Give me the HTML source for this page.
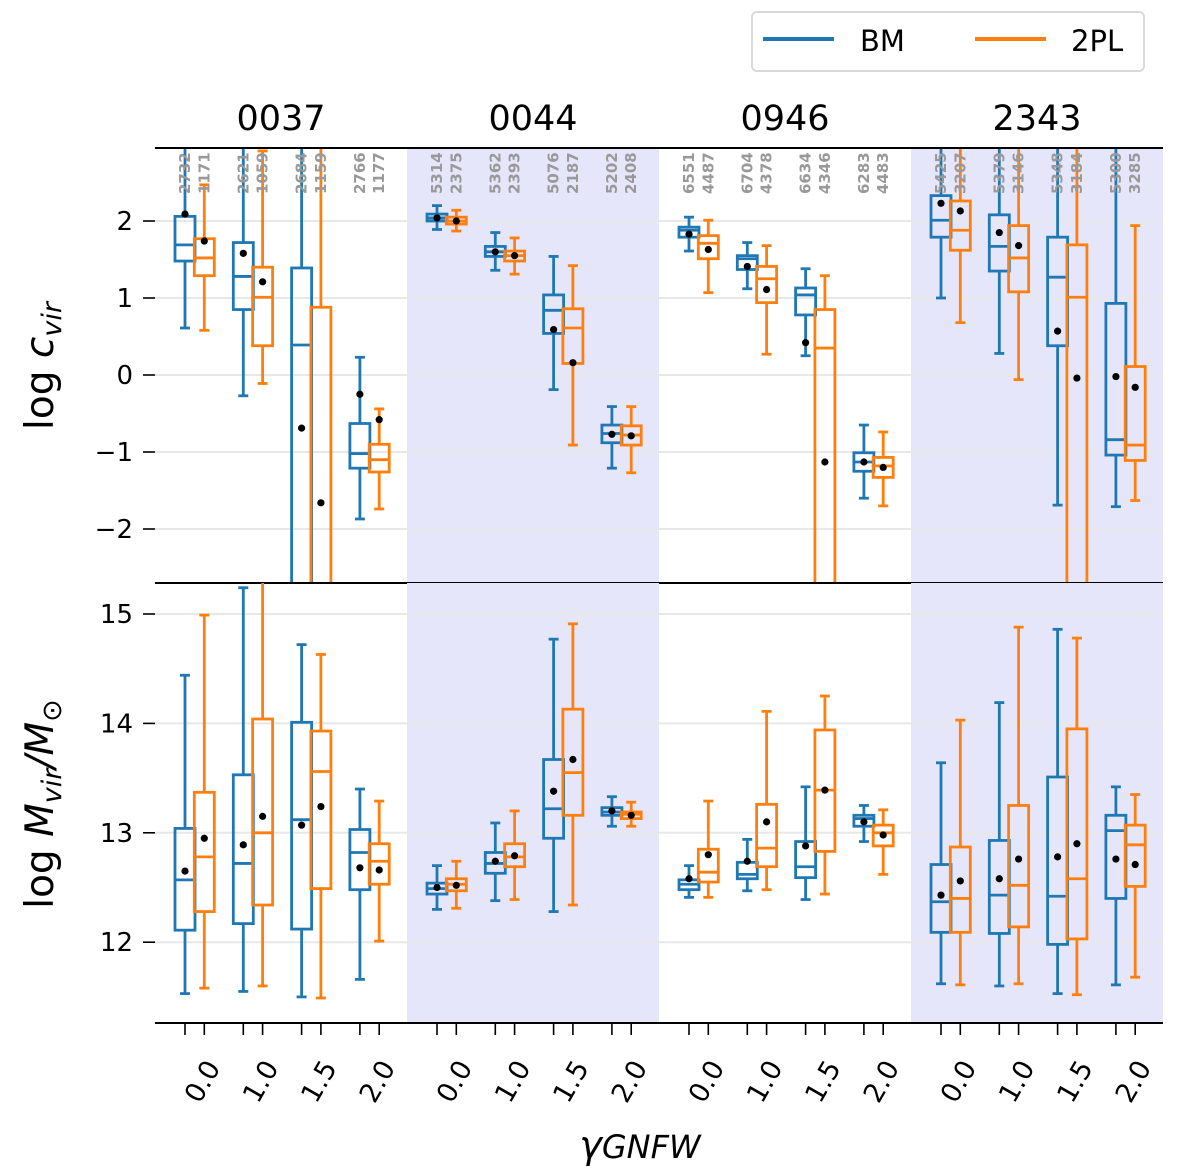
<!DOCTYPE html>
<html><head><meta charset="utf-8"><style>
html,body{margin:0;padding:0;background:#fff;}
svg{display:block;font-family:"DejaVu Sans","Liberation Sans",sans-serif;}
</style></head><body>
<svg id="chart" width="1200" height="1175" viewBox="0 0 1200 1175" xmlns="http://www.w3.org/2000/svg">
<g>
<rect x="752" y="12" width="392" height="59" rx="5" fill="#fff" stroke="#d9d9d9" stroke-width="2"/>
<line x1="763" y1="39" x2="834" y2="39" stroke="#1f77b4" stroke-width="4"/>
<text x="860" y="51" font-size="29" fill="#000">BM</text>
<line x1="975" y1="39" x2="1046" y2="39" stroke="#ff7f0e" stroke-width="4"/>
<text x="1071" y="51" font-size="29" fill="#000">2PL</text>
</g>
<text x="53" y="366" font-size="39" text-anchor="middle" transform="rotate(-90 53 366)">log <tspan font-style="italic">c</tspan><tspan font-style="italic" font-size="27" dy="8">vir</tspan></text>
<text x="53" y="804" font-size="39" text-anchor="middle" transform="rotate(-90 53 804)">log <tspan font-style="italic">M</tspan><tspan font-style="italic" font-size="27" dy="8">vir</tspan><tspan dy="-8" font-style="italic">/M</tspan><tspan font-size="27" dy="8">⊙</tspan></text>
<text x="640" y="1158" font-size="38" text-anchor="middle"><tspan font-style="italic">γ</tspan><tspan font-style="italic" font-size="32">GNFW</tspan></text>
</svg>
<script>
// categories
const clusters = ["0037","0044","0946","2343"];
const gammas = ["0.0","1.0","1.5","2.0"];
const cvirTicks = [2,1,0,-1,-2];
const cvirTickLabels = ["2","1","0","\u22121","\u22122"];
const mvirTicks = [15,14,13,12];
const mvirTickLabels = ["15","14","13","12"];
// counts (BM, 2PL) per box
const countsBM = [2732,2621,2684,2766, 5314,5362,5076,5202, 6551,6704,6634,6283, 5425,5379,5348,5300];
const counts2PL = [1171,1059,1159,1177, 2375,2393,2187,2408, 4487,4378,4346,4483, 3207,3146,3184,3285];
// [whislo, q1, med, q3, whishi, mean]
const cvirBM = [
 [0.61,1.48,1.69,2.06,4,2.09],[-0.27,0.85,1.28,1.72,4,1.58],[-6,-4,0.39,1.39,4,-0.69],[-1.87,-1.21,-1.02,-0.63,0.23,-0.25],
 [1.89,2.0,2.04,2.09,2.20,2.04],[1.36,1.54,1.60,1.67,1.85,1.60],[-0.19,0.54,0.84,1.04,1.54,0.59],[-1.21,-0.88,-0.76,-0.65,-0.41,-0.77],
 [1.61,1.79,1.88,1.92,2.05,1.83],[1.12,1.37,1.51,1.55,1.72,1.41],[0.25,0.78,1.04,1.13,1.38,0.42],[-1.60,-1.25,-1.13,-1.01,-0.65,-1.13],
 [1.0,1.79,2.01,2.33,4,2.23],[0.28,1.35,1.67,2.08,4,1.85],[-1.69,0.38,1.27,1.79,4,0.57],[-1.71,-1.04,-0.84,0.93,4,-0.02]];
const cvir2PL = [
 [0.58,1.29,1.52,1.77,2.47,1.74],[-0.11,0.38,1.01,1.40,2.91,1.21],[-6,-4,-3,0.88,4,-1.66],[-1.74,-1.26,-1.10,-0.90,-0.44,-0.58],
 [1.87,1.96,2.0,2.05,2.14,2.0],[1.31,1.48,1.55,1.61,1.78,1.55],[-0.91,0.15,0.61,0.86,1.42,0.16],[-1.27,-0.91,-0.78,-0.66,-0.41,-0.79],
 [1.07,1.51,1.71,1.81,2.01,1.63],[0.27,0.94,1.25,1.41,1.68,1.11],[-6,-4,0.35,0.85,1.29,-1.13],[-1.70,-1.33,-1.18,-1.07,-0.74,-1.20],
 [0.68,1.62,1.88,2.26,4,2.13],[-0.06,1.08,1.52,1.94,4,1.68],[-6,-4,1.01,1.69,4,-0.04],[-1.63,-1.11,-0.91,0.11,1.94,-0.16]];
const mvirBM = [
 [11.53,12.11,12.57,13.04,14.44,12.65],[11.55,12.17,12.72,13.53,15.24,12.89],[11.50,12.12,13.12,14.01,14.72,13.07],[11.66,12.48,12.82,13.03,13.40,12.68],
 [12.30,12.44,12.49,12.54,12.70,12.50],[12.38,12.63,12.72,12.82,13.09,12.74],[12.28,12.95,13.22,13.67,14.77,13.38],[13.06,13.16,13.19,13.23,13.33,13.20],
 [12.41,12.48,12.53,12.57,12.70,12.58],[12.47,12.58,12.62,12.73,12.94,12.74],[12.39,12.59,12.69,12.92,13.42,12.88],[12.92,13.06,13.13,13.16,13.25,13.10],
 [11.62,12.09,12.37,12.71,13.64,12.43],[11.60,12.08,12.43,12.93,14.19,12.58],[11.53,11.98,12.42,13.51,14.86,12.78],[11.61,12.40,13.02,13.16,13.42,12.76]];
const mvir2PL = [
 [11.58,12.28,12.78,13.37,14.99,12.95],[11.60,12.34,13.0,14.04,16,13.15],[11.49,12.49,13.56,13.93,14.63,13.24],[12.01,12.53,12.74,12.90,13.29,12.66],
 [12.31,12.47,12.53,12.58,12.74,12.52],[12.39,12.69,12.78,12.90,13.20,12.79],[12.34,13.16,13.55,14.13,14.91,13.67],[13.06,13.13,13.17,13.19,13.28,13.16],
 [12.41,12.55,12.64,12.85,13.29,12.80],[12.48,12.69,12.86,13.26,14.11,13.10],[12.44,12.83,13.39,13.94,14.25,13.39],[12.62,12.88,13.00,13.07,13.21,12.98],
 [11.61,12.09,12.40,12.87,14.03,12.56],[11.62,12.14,12.52,13.25,14.88,12.76],[11.52,12.03,12.58,13.95,14.78,12.90],[11.68,12.51,12.89,13.07,13.35,12.71]];

const NS = "http://www.w3.org/2000/svg";
const svg = document.getElementById("chart");
const X0 = 155, X1 = 1163, GW = 252, STEP = 58.3, OFF = 19.3, BW = 20;
const BLUE = "#1f77b4", ORANGE = "#ff7f0e";
function el(tag, attrs, parent) {
  const e = document.createElementNS(NS, tag);
  for (const k in attrs) e.setAttribute(k, attrs[k]);
  (parent || svg).appendChild(e);
  return e;
}
function xPos(i, model) { return 185 + GW * Math.floor(i / 4) + STEP * (i % 4) + (model === 1 ? OFF : 0); }
const panels = [
  {top:148, bot:583, yOf: v => 221 - (v - 2) * 77, ticks: cvirTicks, labels: cvirTickLabels, bm: cvirBM, pl: cvir2PL, name:"cvir", topSpine:true},
  {top:583, bot:1023, yOf: v => 614 - (v - 15) * 109.4, ticks: mvirTicks, labels: mvirTickLabels, bm: mvirBM, pl: mvir2PL, name:"mvir", topSpine:false}
];
panels.forEach((p, pi) => {
  const g = el("g", {});
  
  
  const cp = el("clipPath", {id: "clip" + pi}, g);
  el("rect", {x: X0, y: p.top, width: X1 - X0, height: p.bot - p.top}, cp);
  clusters.forEach((c, ci) => {
    if (ci % 2 === 1) {
      const r = el("rect", {x: X0 + ci * GW, y: p.top, width: GW, height: p.bot - p.top, fill: "#e6e6fa"}, g);
      
      
    }
  });
  p.ticks.forEach((t, ti) => {
    const y = p.yOf(t);
    const gl = el("line", {x1: X0, x2: X1, y1: y, y2: y, stroke: "#e8e8e8", "stroke-width": 2}, g);
    
    
    const tk = el("line", {x1: 143, x2: 155, y1: y, y2: y, stroke: "#000", "stroke-width": 1.6}, g);
    
    
    const tl = el("text", {x: 133, y: y + 9, "font-size": 26, "text-anchor": "end", fill: "#000"}, g);
    tl.textContent = p.labels[ti];
    
    
  });
  const boxes = el("g", {"clip-path": "url(#clip" + pi + ")"}, g);
  [[p.bm, BLUE, 0, "bm"], [p.pl, ORANGE, 1, "2pl"]].forEach(([data, col, m, mn]) => {
    data.forEach((s, i) => {
      const x = xPos(i, m);
      const bg = el("g", {stroke: col, "stroke-width": 2.8, fill: "none"}, boxes);
      
      
      const [lo, q1, med, q3, hi, mean] = s;
      el("line", {x1: x, x2: x, y1: p.yOf(q3), y2: p.yOf(hi)}, bg);
      el("line", {x1: x, x2: x, y1: p.yOf(q1), y2: p.yOf(lo)}, bg);
      el("line", {x1: x - 5, x2: x + 5, y1: p.yOf(hi), y2: p.yOf(hi)}, bg);
      el("line", {x1: x - 5, x2: x + 5, y1: p.yOf(lo), y2: p.yOf(lo)}, bg);
      el("rect", {x: x - BW/2, y: p.yOf(q3), width: BW, height: p.yOf(q1) - p.yOf(q3)}, bg);
      el("line", {x1: x - BW/2, x2: x + BW/2, y1: p.yOf(med), y2: p.yOf(med)}, bg);
      const dot = el("circle", {cx: x, cy: p.yOf(mean), r: 3.6, fill: "#000", stroke: "none"}, boxes);
      
      
    });
  });
  const spine = el("line", {x1: X0, x2: X1, y1: p.bot, y2: p.bot, stroke: "#000", "stroke-width": 2}, g);
  
  
  if (p.topSpine) {
    const ts = el("line", {x1: X0, x2: X1, y1: p.top, y2: p.top, stroke: "#000", "stroke-width": 2}, g);
    
    
  }
});
// counts
const cg = el("g", {"clip-path": "url(#clip0)", fill: "#999", "font-size": 15, "font-weight": "bold"});


[[countsBM, 0], [counts2PL, 1]].forEach(([arr, m]) => {
  arr.forEach((n, i) => {
    const x = xPos(i, m) + 5, y = 194;
    const t = el("text", {x: x, y: y, transform: "rotate(-90 " + x + " " + y + ")"}, cg);
    t.textContent = n;
    
    
  });
});
// titles
clusters.forEach((c, ci) => {
  const t = el("text", {x: X0 + ci * GW + 126, y: 130, "font-size": 35, "text-anchor": "middle", fill: "#000"});
  t.textContent = c;
  
  
});
// x ticks
for (let i = 0; i < 16; i++) {
  for (let m = 0; m < 2; m++) {
    const x = xPos(i, m);
    const tk = el("line", {x1: x, x2: x, y1: 1023, y2: 1035, stroke: "#000", "stroke-width": 1.6});
    
    
  }
  const cx = (xPos(i, 0) + xPos(i, 1)) / 2 + 7, cy = 1091;
  const tl = el("text", {x: cx, y: cy, "font-size": 27, "text-anchor": "middle", transform: "rotate(-60 " + cx + " " + (cy - 10) + ")"});
  tl.textContent = gammas[i % 4];
  
  
}
</script>
</body></html>
